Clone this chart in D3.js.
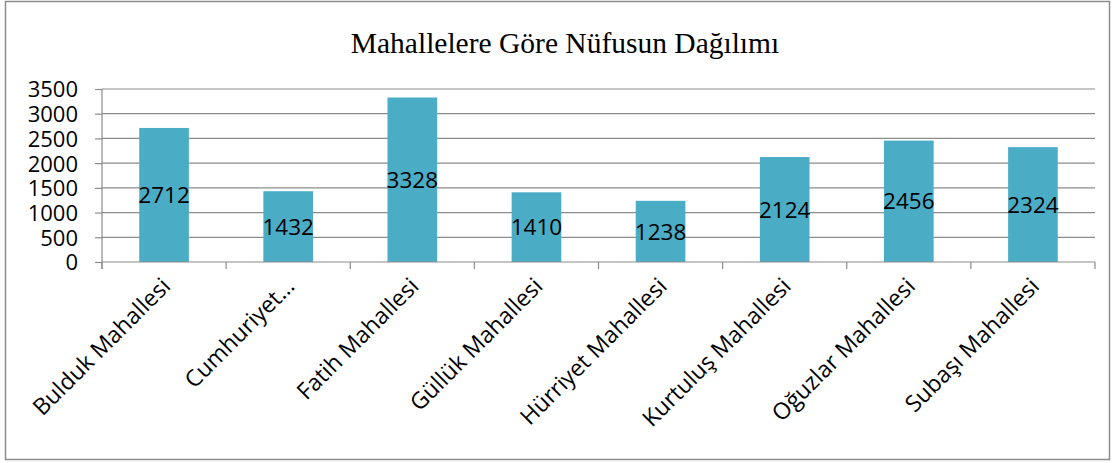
<!DOCTYPE html>
<html>
<head>
<meta charset="utf-8">
<script src="https://cdn.jsdelivr.net/npm/d3@7"></script>
<style>
  body { margin: 0; background: #fff; }
  svg { display: block; }
</style>
</head>
<body>
<div id="chart"></div>
<script>
// values
const categories = ["Bulduk Mahallesi", "Cumhuriyet…", "Fatih Mahallesi", "Güllük Mahallesi",
                    "Hürriyet Mahallesi", "Kurtuluş Mahallesi", "Oğuzlar Mahallesi", "Subaşı Mahallesi"];
const population = [2712, 1432, 3328, 1410, 1238, 2124, 2456, 2324];
const yTicks = [0, 500, 1000, 1500, 2000, 2500, 3000, 3500];
const title = "Mahallelere Göre Nüfusun Dağılımı";

const W = 1115, H = 463;
const margin = { top: 89, right: 20, bottom: 201, left: 102 };
const font = "'Open Sans', 'Noto Sans', sans-serif";

const svg = d3.select("#chart").append("svg")
    .attr("width", W)
    .attr("height", H);

// outer frame
svg.append("rect")
    .attr("x", 5.5).attr("y", 1.5)
    .attr("width", W - 11).attr("height", H - 5)
    .attr("fill", "#fff")
    .attr("stroke", "#8c8c8c")
    .attr("stroke-width", 1.5);

svg.append("text")
    .attr("x", 565)
    .attr("y", 53)
    .attr("text-anchor", "middle")
    .style("font-family", "'Liberation Serif', 'Times New Roman', serif")
    .style("font-size", "29.5px")
    .style("fill", "#000")
    .text(title);

const x = d3.scaleBand()
    .domain(categories)
    .range([margin.left, W - margin.right])
    .paddingInner(0.6)
    .paddingOuter(0.3);

const y = d3.scaleLinear()
    .domain([0, 3500])
    .range([H - margin.bottom, margin.top]);

// gridlines
svg.append("g")
    .selectAll("line")
    .data(yTicks.slice(1))
    .join("line")
    .attr("x1", margin.left)
    .attr("x2", W - margin.right)
    .attr("y1", d => y(d))
    .attr("y2", d => y(d))
    .attr("stroke", "#8c8c8c")
    .attr("stroke-width", 1.2);

// bars
svg.append("g")
    .selectAll("rect")
    .data(population)
    .join("rect")
    .attr("x", (d, i) => x(categories[i]))
    .attr("y", d => y(d))
    .attr("width", x.bandwidth())
    .attr("height", d => y(0) - y(d))
    .attr("fill", "#4bacc6");

// y axis
const yAxis = svg.append("g")
    .attr("transform", `translate(${margin.left},0)`)
    .call(d3.axisLeft(y).tickValues(yTicks).tickFormat(d3.format("d")).tickSize(7).tickPadding(17));
yAxis.select(".domain").attr("stroke", "#8c8c8c").attr("stroke-width", 1.2)
    .attr("d", `M0,${y(3500)}V${y(0) + 7}`);
yAxis.selectAll(".tick line").attr("stroke", "#8c8c8c").attr("stroke-width", 1.2);
yAxis.selectAll(".tick text")
    .style("font-family", font)
    .style("font-size", "22px")
    .attr("dy", "0.36em")
    .style("fill", "#000");

// x axis: ticks sit on the band edges
const edges = d3.range(categories.length + 1).map(i => margin.left + i * (W - margin.left - margin.right) / categories.length);
const xAxis = svg.append("g");
xAxis.append("line")
    .attr("x1", margin.left).attr("x2", W - margin.right)
    .attr("y1", y(0)).attr("y2", y(0))
    .attr("stroke", "#8c8c8c").attr("stroke-width", 1.2);
xAxis.selectAll(".edge")
    .data(edges)
    .join("line")
    .attr("class", "edge")
    .attr("x1", d => d).attr("x2", d => d)
    .attr("y1", y(0)).attr("y2", y(0) + 7)
    .attr("stroke", "#8c8c8c").attr("stroke-width", 1.2);

xAxis.selectAll("text")
    .data(categories)
    .join("text")
    .attr("transform", d => `translate(${x(d) + x.bandwidth() / 2 + 2},${y(0) + 20}) rotate(-45)`)
    .attr("text-anchor", "end")
    .attr("dy", "0.35em")
    .style("font-family", font)
    .style("font-size", "23px")
    .style("fill", "#000")
    .text(d => d);

// data labels, centered in bars
svg.append("g")
    .selectAll("text")
    .data(population)
    .join("text")
    .attr("x", (d, i) => x(categories[i]) + x.bandwidth() / 2)
    .attr("y", d => (y(d) + y(0)) / 2)
    .attr("dy", "0.36em")
    .attr("text-anchor", "middle")
    .style("font-family", font)
    .style("font-size", "22.5px")
    .style("fill", "#000")
    .text(d => d);
</script>
</body>
</html>
